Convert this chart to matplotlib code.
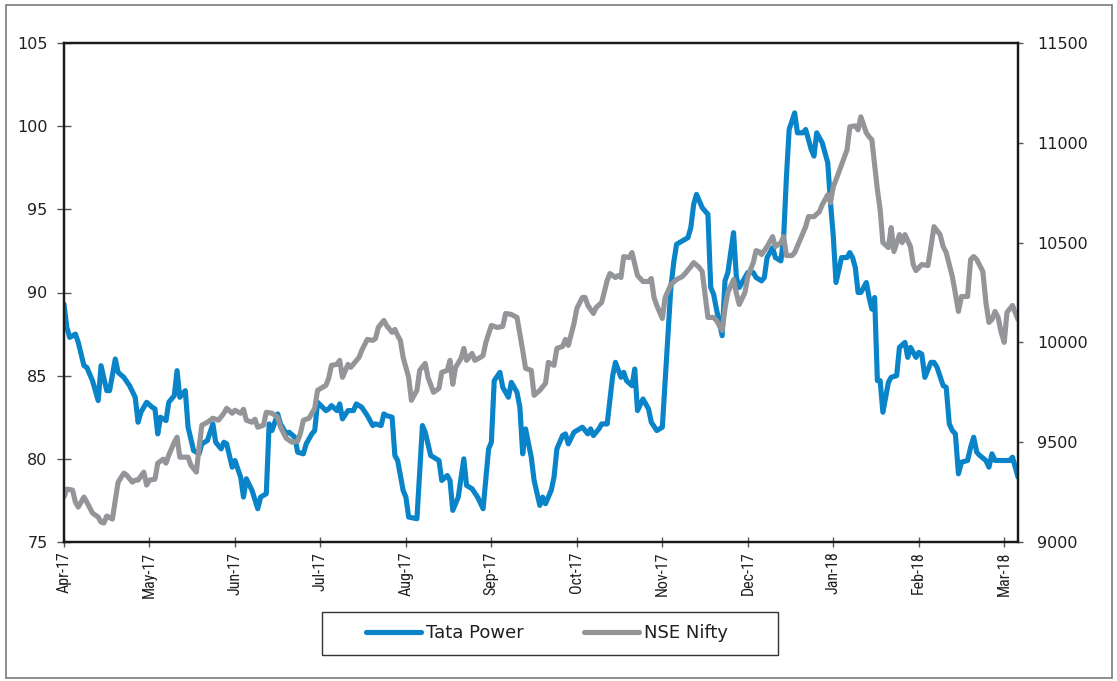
import numpy as np
import pandas as pd
import matplotlib
matplotlib.use("Agg")
import matplotlib.pyplot as plt
import matplotlib.dates as mdates
from matplotlib import font_manager as fm
from matplotlib.patches import Rectangle

# ---------------- data ----------------
tata_dates = [
    "2017-04-01", "2017-04-02", "2017-04-03", "2017-04-05", "2017-04-06", "2017-04-08", "2017-04-09",
    "2017-04-11", "2017-04-13", "2017-04-14", "2017-04-16", "2017-04-17", "2017-04-19", "2017-04-20",
    "2017-04-22", "2017-04-24", "2017-04-26", "2017-04-27", "2017-04-28", "2017-04-30",
    "2017-05-02", "2017-05-03", "2017-05-04", "2017-05-05", "2017-05-07", "2017-05-08", "2017-05-10",
    "2017-05-11", "2017-05-12", "2017-05-14", "2017-05-15", "2017-05-17", "2017-05-19", "2017-05-20",
    "2017-05-22", "2017-05-24", "2017-05-25", "2017-05-27", "2017-05-28", "2017-05-29", "2017-05-31",
    "2017-06-01", "2017-06-03", "2017-06-04", "2017-06-05", "2017-06-07", "2017-06-09", "2017-06-10",
    "2017-06-12", "2017-06-13", "2017-06-14", "2017-06-16", "2017-06-17", "2017-06-19", "2017-06-20",
    "2017-06-22", "2017-06-23", "2017-06-25", "2017-06-26", "2017-06-28", "2017-06-29", "2017-06-30",
    "2017-07-03", "2017-07-04", "2017-07-05", "2017-07-07", "2017-07-08", "2017-07-09", "2017-07-11",
    "2017-07-13", "2017-07-14", "2017-07-16", "2017-07-18", "2017-07-20", "2017-07-21", "2017-07-23",
    "2017-07-24", "2017-07-25", "2017-07-27", "2017-07-28", "2017-07-29", "2017-07-31",
    "2017-08-01", "2017-08-02", "2017-08-05", "2017-08-07", "2017-08-08", "2017-08-10", "2017-08-12",
    "2017-08-13", "2017-08-14", "2017-08-16", "2017-08-17", "2017-08-18", "2017-08-20", "2017-08-22",
    "2017-08-23", "2017-08-25", "2017-08-27", "2017-08-29", "2017-08-31",
    "2017-09-01", "2017-09-02", "2017-09-04", "2017-09-05", "2017-09-07", "2017-09-08", "2017-09-10",
    "2017-09-11", "2017-09-12", "2017-09-13", "2017-09-15", "2017-09-16", "2017-09-18", "2017-09-19",
    "2017-09-20", "2017-09-22", "2017-09-23", "2017-09-24", "2017-09-26", "2017-09-27", "2017-09-28",
    "2017-09-30",
    "2017-10-01", "2017-10-03", "2017-10-05", "2017-10-06", "2017-10-07", "2017-10-09", "2017-10-10",
    "2017-10-12", "2017-10-14", "2017-10-15", "2017-10-17", "2017-10-18", "2017-10-19", "2017-10-21",
    "2017-10-22", "2017-10-23", "2017-10-25", "2017-10-27", "2017-10-28", "2017-10-30",
    "2017-11-01", "2017-11-02", "2017-11-04", "2017-11-05", "2017-11-06", "2017-11-08", "2017-11-10",
    "2017-11-11", "2017-11-12", "2017-11-13", "2017-11-15", "2017-11-17", "2017-11-18", "2017-11-19",
    "2017-11-20", "2017-11-22", "2017-11-23", "2017-11-24", "2017-11-26", "2017-11-27", "2017-11-28",
    "2017-11-30",
    "2017-12-01", "2017-12-03", "2017-12-04", "2017-12-06", "2017-12-07", "2017-12-08", "2017-12-10",
    "2017-12-11", "2017-12-13", "2017-12-14", "2017-12-15", "2017-12-16", "2017-12-18", "2017-12-19",
    "2017-12-21", "2017-12-22", "2017-12-24", "2017-12-25", "2017-12-26", "2017-12-28", "2017-12-29",
    "2017-12-30", "2017-12-31",
    "2018-01-01", "2018-01-02", "2018-01-04", "2018-01-06", "2018-01-07", "2018-01-08", "2018-01-09",
    "2018-01-10", "2018-01-11", "2018-01-13", "2018-01-14", "2018-01-15", "2018-01-16", "2018-01-17",
    "2018-01-18", "2018-01-19", "2018-01-21", "2018-01-22", "2018-01-24", "2018-01-25", "2018-01-27",
    "2018-01-28", "2018-01-29", "2018-01-31",
    "2018-02-01", "2018-02-02", "2018-02-03", "2018-02-05", "2018-02-06", "2018-02-07", "2018-02-09",
    "2018-02-10", "2018-02-11", "2018-02-12", "2018-02-13", "2018-02-14", "2018-02-15", "2018-02-17",
    "2018-02-18", "2018-02-19", "2018-02-20", "2018-02-21", "2018-02-23", "2018-02-24", "2018-02-25",
    "2018-02-26", "2018-02-28",
    "2018-03-02", "2018-03-03", "2018-03-04", "2018-03-06",
]
tata_power = [
    89.3, 87.9, 87.3, 87.5, 87.0, 85.6, 85.5,
    84.7, 83.5, 85.6, 84.1, 84.1, 86.0, 85.2,
    84.9, 84.4, 83.7, 82.2, 82.8, 83.4,
    83.1, 83.0, 81.5, 82.5, 82.3, 83.4, 83.8,
    85.3, 83.7, 84.1, 81.9, 80.5, 80.3, 80.9,
    81.1, 82.1, 81.0, 80.6, 81.0, 80.9, 79.5,
    79.9, 78.9, 77.7, 78.8, 78.1, 77.0, 77.7,
    77.9, 82.1, 81.7, 82.7, 82.1, 81.5, 81.6,
    81.3, 80.4, 80.3, 80.9, 81.5, 81.7, 83.4,
    82.9, 83.0, 83.2, 82.9, 83.3, 82.4, 82.9,
    82.9, 83.3, 83.1, 82.6, 82.0, 82.1, 82.0,
    82.7, 82.6, 82.5, 80.2, 79.9, 78.1,
    77.7, 76.5, 76.4, 82.0, 81.6, 80.2, 80.0,
    79.9, 78.7, 79.0, 78.7, 76.9, 77.7, 80.0,
    78.4, 78.2, 77.7, 77.0, 80.6,
    81.0, 84.7, 85.2, 84.3, 83.7, 84.6, 84.0,
    83.1, 80.3, 81.8, 80.1, 78.7, 77.2, 77.7,
    77.3, 78.1, 78.9, 80.6, 81.4, 81.5, 80.9,
    81.6,
    81.7, 81.9, 81.5, 81.8, 81.4, 81.8, 82.1,
    82.1, 85.0, 85.8, 84.9, 85.2, 84.7, 84.4,
    85.4, 82.9, 83.6, 83.0, 82.2, 81.7,
    81.9, 84.7, 90.3, 91.8, 92.9, 93.1, 93.3,
    93.9, 95.3, 95.9, 95.1, 94.7, 90.3, 89.9,
    89.0, 87.4, 90.7, 91.2, 93.6, 90.9, 90.3,
    90.9,
    91.2, 91.2, 90.9, 90.7, 90.9, 92.1, 92.7,
    92.1, 91.9, 93.3, 96.9, 99.8, 100.8, 99.6,
    99.6, 99.8, 98.6, 98.2, 99.6, 99.0, 98.4,
    97.8, 95.4,
    93.4, 90.6, 92.1, 92.1, 92.4, 92.1, 91.5,
    90.0, 90.0, 90.6, 89.7, 89.0, 89.7, 84.7,
    84.7, 82.8, 84.6, 84.9, 85.0, 86.7, 87.0,
    86.1, 86.7, 86.1,
    86.4, 86.3, 84.9, 85.8, 85.8, 85.5, 84.4,
    84.3, 82.1, 81.7, 81.5, 79.1, 79.8, 79.9,
    80.7, 81.3, 80.4, 80.2, 79.9, 79.5, 80.3,
    79.9, 79.9,
    79.9, 79.9, 80.1, 78.9,
]

nifty_dates = [
    "2017-04-01", "2017-04-02", "2017-04-04", "2017-04-05", "2017-04-06", "2017-04-08", "2017-04-09",
    "2017-04-11", "2017-04-13", "2017-04-14", "2017-04-15", "2017-04-16", "2017-04-18", "2017-04-19",
    "2017-04-20", "2017-04-22", "2017-04-23", "2017-04-25", "2017-04-26", "2017-04-27", "2017-04-29",
    "2017-04-30",
    "2017-05-01", "2017-05-03", "2017-05-04", "2017-05-06", "2017-05-07", "2017-05-08", "2017-05-10",
    "2017-05-11", "2017-05-12", "2017-05-14", "2017-05-15", "2017-05-16", "2017-05-18", "2017-05-19",
    "2017-05-20", "2017-05-22", "2017-05-24", "2017-05-26", "2017-05-28", "2017-05-29", "2017-05-31",
    "2017-06-01", "2017-06-03", "2017-06-04", "2017-06-05", "2017-06-07", "2017-06-08", "2017-06-09",
    "2017-06-11", "2017-06-12", "2017-06-14", "2017-06-16", "2017-06-17", "2017-06-19", "2017-06-21",
    "2017-06-23", "2017-06-24", "2017-06-25", "2017-06-27", "2017-06-29", "2017-06-30",
    "2017-07-03", "2017-07-04", "2017-07-05", "2017-07-07", "2017-07-08", "2017-07-09", "2017-07-11",
    "2017-07-12", "2017-07-15", "2017-07-16", "2017-07-18", "2017-07-20", "2017-07-21", "2017-07-22",
    "2017-07-24", "2017-07-25", "2017-07-27", "2017-07-28", "2017-07-29", "2017-07-30", "2017-07-31",
    "2017-08-02", "2017-08-03", "2017-08-05", "2017-08-06", "2017-08-08", "2017-08-09", "2017-08-11",
    "2017-08-13", "2017-08-14", "2017-08-16", "2017-08-17", "2017-08-18", "2017-08-19", "2017-08-21",
    "2017-08-22", "2017-08-23", "2017-08-25", "2017-08-26", "2017-08-28", "2017-08-29", "2017-08-30",
    "2017-09-01", "2017-09-03", "2017-09-05", "2017-09-06", "2017-09-08", "2017-09-10", "2017-09-12",
    "2017-09-13", "2017-09-15", "2017-09-16", "2017-09-18", "2017-09-20", "2017-09-21", "2017-09-23",
    "2017-09-24", "2017-09-26", "2017-09-27", "2017-09-28", "2017-09-30",
    "2017-10-01", "2017-10-03", "2017-10-04", "2017-10-05", "2017-10-07", "2017-10-08", "2017-10-10",
    "2017-10-12", "2017-10-13", "2017-10-15", "2017-10-16", "2017-10-17", "2017-10-18", "2017-10-20",
    "2017-10-21", "2017-10-23", "2017-10-25", "2017-10-27", "2017-10-28", "2017-10-29", "2017-10-30",
    "2017-11-01", "2017-11-02", "2017-11-04", "2017-11-06", "2017-11-08", "2017-11-09", "2017-11-11",
    "2017-11-12", "2017-11-14", "2017-11-15", "2017-11-16", "2017-11-17", "2017-11-19", "2017-11-20",
    "2017-11-22", "2017-11-23", "2017-11-24", "2017-11-26", "2017-11-27", "2017-11-28", "2017-11-30",
    "2017-12-01", "2017-12-03", "2017-12-04", "2017-12-05", "2017-12-06", "2017-12-08", "2017-12-10",
    "2017-12-11", "2017-12-13", "2017-12-14", "2017-12-15", "2017-12-17", "2017-12-18", "2017-12-20",
    "2017-12-22", "2017-12-23", "2017-12-25", "2017-12-27", "2017-12-28", "2017-12-30", "2017-12-31",
    "2018-01-01", "2018-01-02", "2018-01-04", "2018-01-06", "2018-01-07", "2018-01-09", "2018-01-10",
    "2018-01-11", "2018-01-13", "2018-01-14", "2018-01-15", "2018-01-17", "2018-01-18", "2018-01-19",
    "2018-01-21", "2018-01-22", "2018-01-23", "2018-01-25", "2018-01-26", "2018-01-27", "2018-01-29",
    "2018-01-30", "2018-01-31",
    "2018-02-02", "2018-02-04", "2018-02-05", "2018-02-06", "2018-02-08", "2018-02-09", "2018-02-10",
    "2018-02-12", "2018-02-13", "2018-02-14", "2018-02-15", "2018-02-17", "2018-02-18", "2018-02-19",
    "2018-02-20", "2018-02-22", "2018-02-23", "2018-02-24", "2018-02-25", "2018-02-26", "2018-02-27",
    "2018-02-28",
    "2018-03-01", "2018-03-02", "2018-03-04", "2018-03-05", "2018-03-06",
]
nse_nifty = [
    9225, 9265, 9260, 9200, 9175, 9225, 9200,
    9145, 9125, 9100, 9095, 9130, 9115, 9210,
    9300, 9345, 9335, 9300, 9310, 9310, 9350,
    9285,
    9310, 9315, 9395, 9415, 9395, 9435, 9500,
    9525, 9425, 9425, 9425, 9385, 9350, 9475,
    9585, 9600, 9620, 9610, 9645, 9670, 9645,
    9660, 9645, 9665, 9610, 9600, 9615, 9575,
    9585, 9650, 9645, 9625, 9575, 9520, 9500,
    9505, 9545, 9610, 9620, 9670, 9760,
    9785, 9820, 9885, 9890, 9910, 9825, 9890,
    9875, 9925, 9960, 10015, 10010, 10020, 10075,
    10110, 10085, 10050, 10065, 10035, 10010, 9925,
    9825, 9710, 9760, 9860, 9895, 9825, 9750,
    9770, 9850, 9860, 9910, 9790, 9875, 9920,
    9970, 9910, 9945, 9910, 9925, 9935, 10000,
    10085, 10075, 10080, 10145, 10140, 10125, 9960,
    9870, 9860, 9735, 9760, 9795, 9900, 9885,
    9970, 9980, 10015, 9985, 10095,
    10170, 10225, 10225, 10185, 10145, 10175, 10200,
    10310, 10345, 10325, 10335, 10325, 10430, 10425,
    10450, 10335, 10305, 10305, 10320, 10225, 10185,
    10120, 10225, 10290, 10315, 10330, 10345, 10380,
    10400, 10375, 10355, 10240, 10125, 10125, 10110,
    10060, 10170, 10250, 10315, 10245, 10190, 10250,
    10330, 10400, 10460, 10455, 10440, 10480, 10530,
    10480, 10500, 10530, 10435, 10435, 10450, 10515,
    10580, 10630, 10630, 10655, 10690, 10740, 10700,
    10780, 10815, 10890, 10965, 11080, 11085, 11065,
    11130, 11050, 11030, 11015, 10765, 10665, 10500,
    10475, 10575, 10455, 10540, 10500, 10540, 10480,
    10390, 10360,
    10390, 10385, 10480, 10580, 10540, 10480, 10450,
    10330, 10245, 10155, 10230, 10230, 10415, 10430,
    10415, 10355, 10200, 10100, 10115, 10155, 10125,
    10050,
    10000, 10150, 10185, 10150, 10115,
]

series_labels = ["Tata Power", "NSE Nifty"]
left_ticks = [75, 80, 85, 90, 95, 100, 105]
right_ticks = [9000, 9500, 10000, 10500, 11000, 11500]
x_start, x_end = "2017-04-01", "2018-03-06"

# ---------------- month-uniform date scale (each month same width) ----------------
EPOCH = np.datetime64("1970-01-01", "D")


def _month_bounds(mon):
    s = (mon.astype("datetime64[D]") - EPOCH).astype(float)
    e = ((mon + np.timedelta64(1, "M")).astype("datetime64[D]") - EPOCH).astype(float)
    return s, e


def fwd(x):
    x = np.asarray(x, dtype=float)
    ok = np.isfinite(x)
    xs = np.where(ok, x, 0.0)
    day = EPOCH + np.floor(xs).astype("int64").astype("timedelta64[D]")
    mon = day.astype("datetime64[M]")
    s, e = _month_bounds(mon)
    p = mon.astype("int64").astype(float) + (xs - s) / (e - s)
    return np.where(ok, p, x)


def inv(p):
    p = np.asarray(p, dtype=float)
    ok = np.isfinite(p)
    ps = np.where(ok, p, 0.0)
    mi = np.floor(ps).astype("int64")
    mon = np.datetime64("1970-01", "M") + mi.astype("timedelta64[M]")
    s, e = _month_bounds(mon)
    return np.where(ok, s + (ps - mi) * (e - s), p)


# ---------------- fonts ----------------
def find_narrow():
    prefs = ["Liberation Sans Narrow", "Roboto Condensed", "Open Sans Condensed",
             "DejaVu Sans Condensed", "Noto Sans Condensed"]
    for name in prefs:
        for f in fm.fontManager.ttflist:
            if f.name == name and f.weight in (400, "normal", "regular") and f.style == "normal":
                return fm.FontProperties(fname=f.fname, size=11.5)
    for f in fm.fontManager.ttflist:
        if f.name in ("DejaVu Sans", "Roboto", "Open Sans", "Noto Sans") and \
                str(f.stretch) in ("condensed", "semi-condensed", "75", "87.5") and \
                f.style == "normal" and f.weight in (400, "normal", "regular"):
            return fm.FontProperties(fname=f.fname, size=11.5)
    return fm.FontProperties(family="Liberation Sans", size=9.5)


narrow_fp = find_narrow()

# ---------------- figure ----------------
W, H = 1117, 681
fig = plt.figure(figsize=(W / 100, H / 100), dpi=100)
ax = fig.add_axes([64 / W, 1 - 542 / H, (1018 - 64) / W, (542 - 43) / H])
ax2 = ax.twinx()

blue = "#0a84c8"
grey = "#939598"
txt = "#231f20"

l1, = ax.plot(pd.to_datetime(tata_dates), tata_power, color=blue, lw=3.7,
              solid_joinstyle="round", solid_capstyle="round", label=series_labels[0])
l2, = ax2.plot(pd.to_datetime(nifty_dates), nse_nifty, color=grey, lw=3.7,
               solid_joinstyle="round", solid_capstyle="round", label=series_labels[1])

ax.set_xscale("function", functions=(fwd, inv))
ax.set_xlim(pd.Timestamp(x_start), pd.Timestamp(x_end))
ax.xaxis.set_major_locator(mdates.MonthLocator())
ax.xaxis.set_major_formatter(mdates.DateFormatter("%b-%y"))

ax.set_ylim(left_ticks[0], left_ticks[-1])
ax.set_yticks(left_ticks)
ax2.set_ylim(right_ticks[0], right_ticks[-1])
ax2.set_yticks(right_ticks)

for a in (ax, ax2):
    for sp in a.spines.values():
        sp.set_color("#1a1a1a")
        sp.set_linewidth(1.6)

ax.tick_params(axis="y", direction="inout", length=9.5, width=1.0, color="#555555",
               labelsize=11.5, labelcolor=txt, pad=7)
ax.tick_params(axis="x", direction="inout", length=7, width=1.0, color="#555555",
               labelcolor=txt, pad=3.5, labelrotation=90)
ax2.tick_params(axis="y", direction="out", length=3.6, width=1.0, color="#555555",
                labelsize=11.5, labelcolor=txt, pad=10)

for lab in ax.get_yticklabels() + ax2.get_yticklabels():
    lab.set_family("DejaVu Sans")
for lab in ax.get_xticklabels():
    lab.set_fontproperties(narrow_fp)
    lab.set_color(txt)

# legend (content) + its box
fs_leg = 13
leg = fig.legend([l1, l2], series_labels, loc="center",
                 bbox_to_anchor=(547 / W, 1 - 633.5 / H), ncol=2,
                 frameon=False, prop={"family": "DejaVu Sans", "size": fs_leg},
                 handlelength=3.05, handletextpad=0.28, columnspacing=3.3,
                 borderpad=0.0, borderaxespad=0)
for t in leg.get_texts():
    t.set_color(txt)
fig.patches.append(Rectangle((322 / W, 1 - 655 / H), (778 - 322) / W, (655 - 612) / H,
                             transform=fig.transFigure, fill=False,
                             edgecolor="#333333", lw=1.0))

# outer frame around the whole chart
fig.patches.append(Rectangle((6 / W, 3 / H), (1112 - 6) / W, (676 - 3) / H,
                             transform=fig.transFigure, fill=False,
                             edgecolor="#7a7a7a", lw=1.2))

fig.savefig("out.png", dpi=100)
